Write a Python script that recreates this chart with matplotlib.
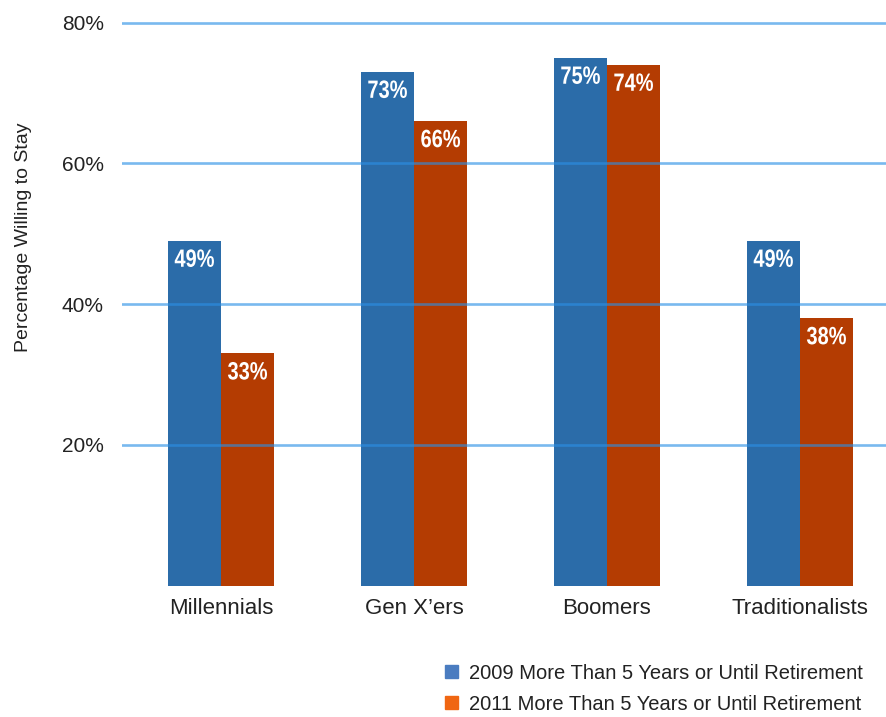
import numpy as np
import matplotlib.pyplot as plt
from matplotlib.patches import Patch
from matplotlib.patheffects import AbstractPathEffect
from matplotlib.transforms import Affine2D

plt.rcParams['font.family'] = ['Liberation Sans', 'DejaVu Sans']

# survey results by generation
groups = ['Millennials', 'Gen X\u2019ers', 'Boomers', 'Traditionalists']
pct_2009 = [49, 73, 75, 49]
pct_2011 = [33, 66, 74, 38]
series_names = ['2009 More Than 5 Years or Until Retirement',
                '2011 More Than 5 Years or Until Retirement']
yticks = [20, 40, 60, 80]

bar_blue = '#2b6ca9'
bar_orange = '#b43c02'


class Squeeze(AbstractPathEffect):
    """Narrow the glyphs horizontally about the text's centre."""

    def __init__(self, sx=0.8):
        super().__init__()
        self.sx = sx

    def draw_path(self, renderer, gc, tpath, affine, rgbFace=None):
        ext = tpath.get_extents(affine)
        cx = (ext.x0 + ext.x1) / 2
        squeeze = Affine2D().translate(-cx, 0).scale(self.sx, 1).translate(cx, 0)
        renderer.draw_path(gc, tpath, affine + squeeze, rgbFace)


fig = plt.figure(figsize=(8.86, 7.17), dpi=100)
ax = fig.add_axes([0.1377, 0.183, 0.8623, 0.7904])

x = np.arange(len(groups))
w = 0.275
b1 = ax.bar(x - w/2, pct_2009, w, color=bar_blue, zorder=1)
b2 = ax.bar(x + w/2, pct_2011, w, color=bar_orange, zorder=1)

for bars, vals in ((b1, pct_2009), (b2, pct_2011)):
    for r, v in zip(bars, vals):
        ax.annotate('%d%%' % v, (r.get_x() + r.get_width()/2, v),
                    xytext=(0, -5), textcoords='offset points',
                    ha='center', va='top', color='white', fontsize=18,
                    fontweight='bold', zorder=4,
                    path_effects=[Squeeze(0.8)])

ax.set_xlim(-0.513, 3.446)
ax.set_ylim(0, 80.5)
ax.set_yticks(yticks)
ax.set_yticklabels(['%d%%' % t for t in yticks])
ax.set_xticks(x)
ax.set_xticklabels(groups)
ax.tick_params(length=0, labelsize=15, colors='#222222')
ax.tick_params(axis='x', pad=9, labelsize=16)
ax.tick_params(axis='y', pad=13)
# gridlines sit on top of the bars, semi-transparent
ax.yaxis.grid(True, color='#2b90e6', alpha=0.63, linewidth=1.9)
ax.set_axisbelow(False)
for s in ax.spines.values():
    s.set_visible(False)

fig.text(0.026, 0.669, 'Percentage Willing to Stay', rotation=90,
         ha='center', va='center', fontsize=14, color='#222222')

handles = [Patch(color='#4a7cc0'), Patch(color='#f06612')]
fig.legend(handles, series_names, loc='lower right',
           bbox_to_anchor=(0.994, -0.021), frameon=False, fontsize=14.5,
           handlelength=0.62, handleheight=0.62, handletextpad=0.55,
           labelspacing=0.6, labelcolor='#222222')

fig.savefig('out.png', dpi=100)
